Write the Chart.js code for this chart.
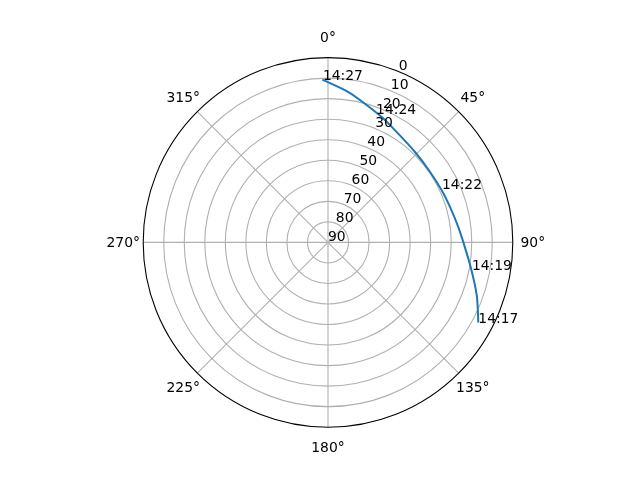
<!DOCTYPE html>
<html>
<head>
<meta charset="utf-8">
<script src="https://cdn.jsdelivr.net/npm/chart.js@4/dist/chart.umd.min.js"></script>
<style>
  html, body { margin: 0; padding: 0; background: #fff; }
  canvas { display: block; }
</style>
</head>
<body>
<canvas id="chart" width="640" height="480"></canvas>
<script>
// pass track, in time order (azimuth deg clockwise from north, elevation deg)
const trackAz = [118.1, 109.6, 100.3, 89.9, 83.3, 73.9, 65.4, 55.0, 43.9, 30.9, 23.2, 14.9, 7.7, 358.0];
const trackEl = [7.0, 13.1, 19.2, 24.1, 26.1, 28.1, 29.1, 29.6, 28.9, 26.4, 23.6, 20.1, 16.1, 10.7];

// time annotations along the track
const timeLabels = ['14:17', '14:19', '14:22', '14:24', '14:27'];
const labelAz = [118.1, 101.0, 65.1, 20.6, 358.2];
const labelEl = [7.0, 18.6, 28.8, 23.4, 10.7];

// axis ticks
const thetaTicks = [0, 45, 90, 135, 180, 225, 270, 315];
const elevTicks = [0, 10, 20, 30, 40, 50, 60, 70, 80, 90];
const RMAX = 90;

const font = '13.9px "DejaVu Sans"';

function toXY(az, el) {
  const r = RMAX - el;
  const a = az * Math.PI / 180;
  return { x: r * Math.sin(a), y: r * Math.cos(a) };
}

const trackData = trackAz.map((az, i) => toXY(az, trackEl[i]));

const polarGrid = {
  id: 'polarGrid',
  beforeDatasetsDraw(chart) {
    const { ctx, scales } = chart;
    const cx = scales.x.getPixelForValue(0);
    const cy = scales.y.getPixelForValue(0);
    const k = scales.x.getPixelForValue(1) - cx;
    ctx.save();
    ctx.strokeStyle = '#b0b0b0';
    ctx.lineWidth = 1.1;
    elevTicks.forEach(el => {
      const r = (RMAX - el) * k;
      if (el === 0 || r <= 0) return;
      ctx.beginPath();
      ctx.arc(cx, cy, r, 0, Math.PI * 2);
      ctx.stroke();
    });
    thetaTicks.forEach(t => {
      const p = toXY(t, 0);
      ctx.beginPath();
      ctx.moveTo(cx, cy);
      ctx.lineTo(scales.x.getPixelForValue(p.x), scales.y.getPixelForValue(p.y));
      ctx.stroke();
    });
    ctx.restore();
  },
  afterDatasetsDraw(chart) {
    const { ctx, scales } = chart;
    const cx = scales.x.getPixelForValue(0);
    const cy = scales.y.getPixelForValue(0);
    const k = scales.x.getPixelForValue(1) - cx;
    ctx.save();
    // outer spine
    ctx.strokeStyle = '#000';
    ctx.lineWidth = 1.1;
    ctx.beginPath();
    ctx.arc(cx, cy, RMAX * k, 0, Math.PI * 2);
    ctx.stroke();

    ctx.fillStyle = '#000';
    ctx.font = font;

    // angle labels
    ctx.textAlign = 'center';
    ctx.textBaseline = 'middle';
    thetaTicks.forEach(t => {
      const a = t * Math.PI / 180;
      const rr = RMAX * k + 20;
      ctx.fillText(t + '°', cx + rr * Math.sin(a), cy - rr * Math.cos(a) + 1);
    });

    // radial labels along 22.5 deg
    ctx.textAlign = 'left';
    ctx.textBaseline = 'bottom';
    elevTicks.forEach(el => {
      const p = toXY(22.5, el);
      ctx.fillText(String(el), scales.x.getPixelForValue(p.x), scales.y.getPixelForValue(p.y) + 2);
    });

    // time annotations
    ctx.textBaseline = 'alphabetic';
    timeLabels.forEach((txt, i) => {
      const p = toXY(labelAz[i], labelEl[i]);
      ctx.fillText(txt, scales.x.getPixelForValue(p.x), scales.y.getPixelForValue(p.y));
    });
    ctx.restore();
  }
};

new Chart(document.getElementById('chart'), {
  type: 'scatter',
  data: {
    datasets: [{
      data: trackData,
      showLine: true,
      borderColor: '#1f77b4',
      borderWidth: 2,
      pointRadius: 0,
      tension: 0.3,
      fill: false
    }]
  },
  options: {
    responsive: false,
    animation: false,
    devicePixelRatio: 1,
    layout: { padding: { left: 143.2, right: 127.2, top: 57.6, bottom: 52.8 } },
    plugins: { legend: { display: false }, tooltip: { enabled: false } },
    scales: {
      x: { type: 'linear', min: -RMAX, max: RMAX, display: false },
      y: { type: 'linear', min: -RMAX, max: RMAX, display: false }
    }
  },
  plugins: [polarGrid]
});
</script>
</body>
</html>
